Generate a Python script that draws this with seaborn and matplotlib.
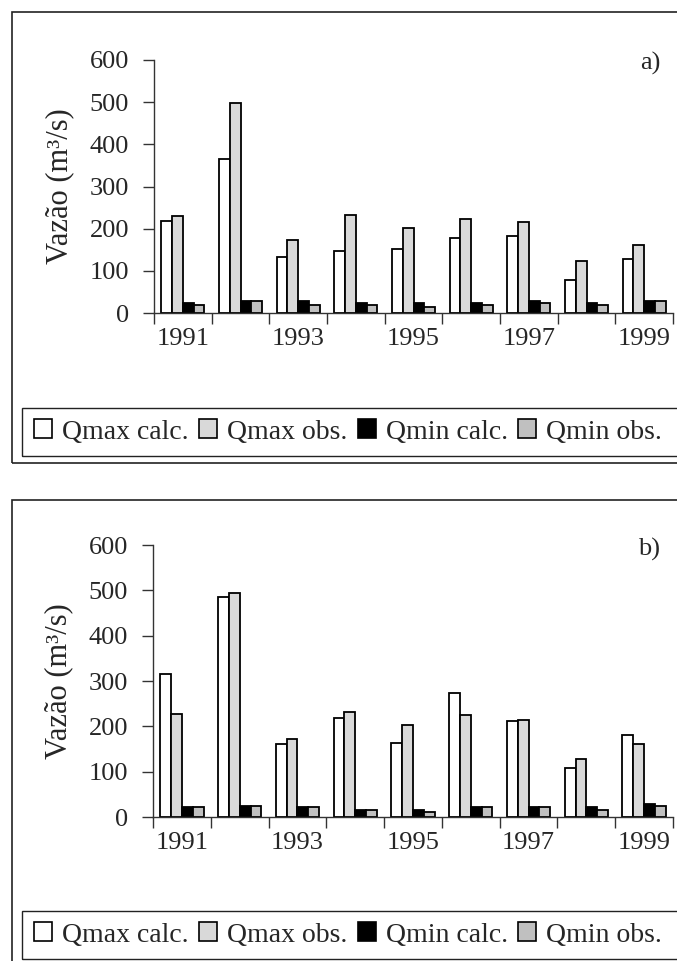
import pandas as pd
import seaborn as sns
import matplotlib.pyplot as plt
from matplotlib.patches import Rectangle, Patch

sns.set_style("white")
plt.rcParams['font.family'] = ['Liberation Serif', 'DejaVu Serif']
plt.rcParams['font.size'] = 19

years = [1991, 1992, 1993, 1994, 1995, 1996, 1997, 1998, 1999]
series = ["Qmax calc.", "Qmax obs.", "Qmin calc.", "Qmin obs."]

# panel a)
a_qmax_calc = [219, 365, 133, 147, 151, 178, 183, 79, 128]
a_qmax_obs = [229, 498, 174, 233, 201, 224, 215, 124, 161]
a_qmin_calc = [24, 29, 29, 24, 24, 24, 29, 24, 29]
a_qmin_obs = [19, 28, 19, 19, 15, 19, 24, 19, 29]

# panel b)
b_qmax_calc = [316, 485, 160, 219, 164, 274, 211, 109, 180]
b_qmax_obs = [228, 494, 173, 232, 202, 224, 215, 127, 160]
b_qmin_calc = [21, 25, 21, 16, 16, 21, 21, 21, 29]
b_qmin_obs = [21, 25, 21, 16, 12, 21, 21, 16, 25]

colors = ["white", "#d9d9d9", "black", "#c0c0c0"]

W, H = 677, 961
fig = plt.figure(figsize=(W / 100, H / 100), dpi=100)


def long_df(cols):
    rows = []
    for name, vals in zip(series, cols):
        for y, v in zip(years, vals):
            rows.append({"year": str(y), "serie": name, "vazao": v})
    return pd.DataFrame(rows)


def px(x0, y0, x1, y1):
    # pixel box -> figure fraction [left, bottom, width, height]
    return [x0 / W, 1 - y1 / H, (x1 - x0) / W, (y1 - y0) / H]


def panel(ax_box, cols, tag, frame_box, leg_box):
    fig.patches.append(Rectangle(frame_box[:2], frame_box[2], frame_box[3],
                                 transform=fig.transFigure, fill=False,
                                 edgecolor="#222222", lw=1.2))
    fig.patches.append(Rectangle(leg_box[:2], leg_box[2], leg_box[3],
                                 transform=fig.transFigure, fill=False,
                                 edgecolor="#222222", lw=1.0))
    ax = fig.add_axes(ax_box)
    df = long_df(cols)
    sns.barplot(data=df, x="year", y="vazao", hue="serie", palette=colors,
                edgecolor="black", linewidth=1.3, width=0.75, ax=ax,
                legend=False)
    ax.set_xlim(-0.5, 8.5)
    ax.set_ylim(0, 600)
    ax.set_yticks(range(0, 601, 100))
    ax.set_xticks(range(0, 9, 2))
    ax.set_xticklabels([str(y) for y in years[::2]])
    ax.set_xticks([i - 0.5 for i in range(10)], minor=True)
    ax.tick_params(axis="x", which="major", length=0, pad=11, labelsize=19)
    ax.tick_params(axis="x", which="minor", length=8, width=1, direction="out",
                   color="#333333", bottom=True)
    ax.tick_params(axis="y", length=8, width=1, direction="out", pad=10,
                   color="#333333", left=True, labelsize=19)
    for s in ["top", "right"]:
        ax.spines[s].set_visible(False)
    for s in ["left", "bottom"]:
        ax.spines[s].set_color("#333333")
        ax.spines[s].set_linewidth(1.0)
    ax.set_xlabel("")
    ax.set_ylabel("Vazão (m³/s)", fontsize=22, labelpad=11)
    ax.text(0.975, 0.985, tag, transform=ax.transAxes, ha="right", va="center",
            fontsize=19)
    return ax


panel(px(154, 60, 673, 313),
      [a_qmax_calc, a_qmax_obs, a_qmin_calc, a_qmin_obs], "a)",
      px(12, 12, 720, 463), px(22, 408, 720, 456))
panel(px(153, 545, 673, 817),
      [b_qmax_calc, b_qmax_obs, b_qmin_calc, b_qmin_obs], "b)",
      px(12, 500, 720, 975), px(22, 911, 720, 959))

handles = [Patch(facecolor=c, edgecolor="black", lw=1.2) for c in colors]
for yc in [432, 935]:
    fig.legend(handles, series, loc="center", bbox_to_anchor=(348 / W, 1 - yc / H),
               ncol=4, frameon=False, fontsize=20, handlelength=0.65,
               handleheight=0.65, handletextpad=0.36, columnspacing=0.36,
               borderpad=0, borderaxespad=0)

fig.savefig("out.png", dpi=100)
